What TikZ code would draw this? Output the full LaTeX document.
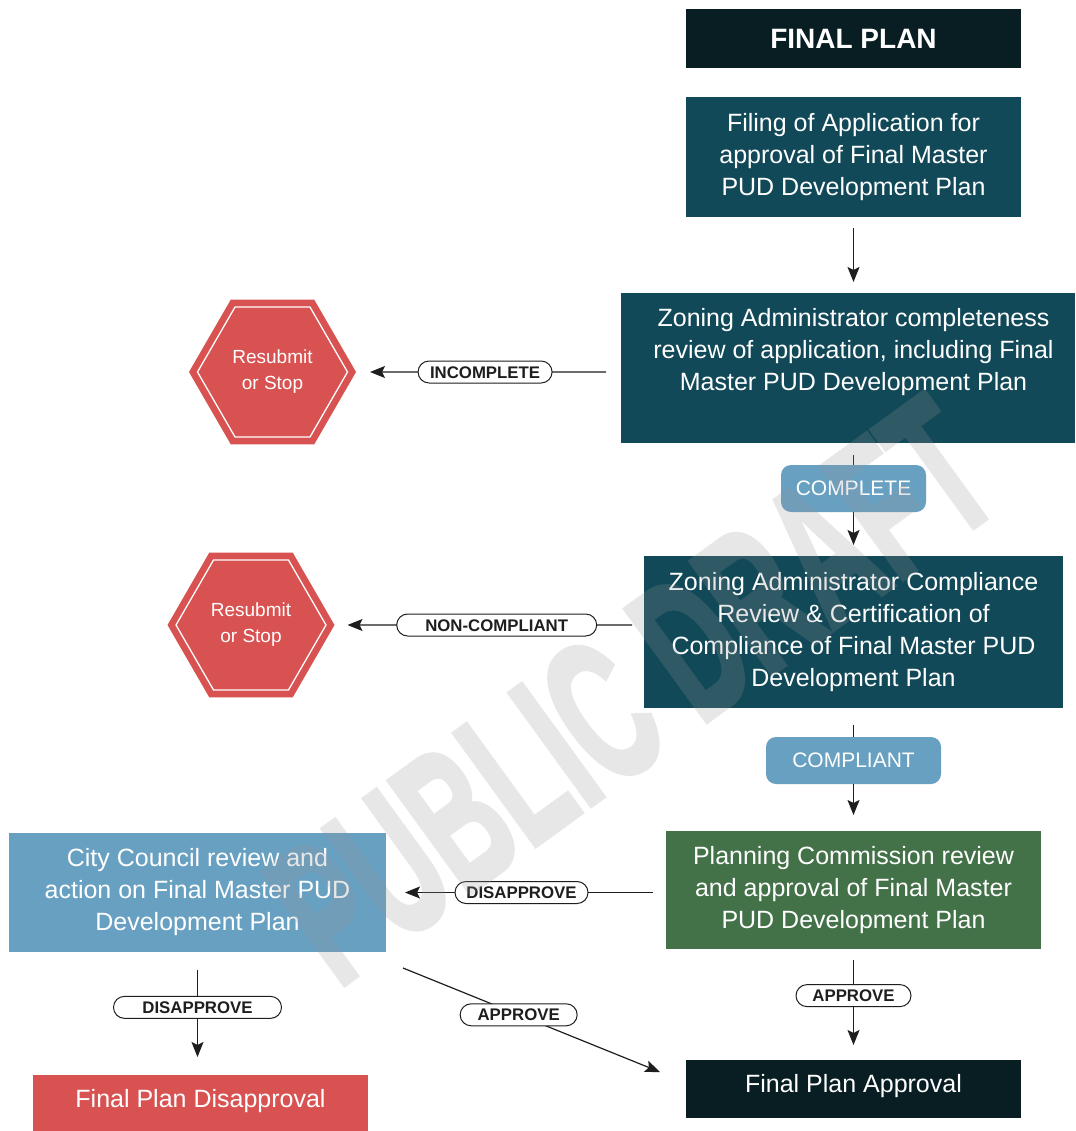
\documentclass[tikz,border=0pt]{standalone}
\usepackage{fontspec}
\setmainfont{Liberation Sans}
\newfontfamily\wmfont{Liberation Sans}[BoldFeatures={FakeBold=3}]
\usetikzlibrary{arrows.meta,shapes.geometric}
\definecolor{cdark}{RGB}{9,30,35}
\definecolor{cteal}{RGB}{18,73,88}
\definecolor{cblue}{RGB}{104,160,194}
\definecolor{cgreen}{RGB}{67,113,72}
\definecolor{cred}{RGB}{217,82,82}
\definecolor{cwm}{RGB}{150,150,150}
\definecolor{cink}{RGB}{30,30,30}
\begin{document}
\begin{tikzpicture}[x=1pt,y=-1pt,
  box/.style={rectangle, inner sep=0pt, outer sep=0pt, text=white, align=center,
    font=\fontsize{25}{32}\selectfont},
  txt/.style={inner sep=0pt, text=white, align=center, font=\fontsize{25}{32}\selectfont},
  tag/.style={rectangle, rounded corners=10pt, fill=cblue, text=white, inner sep=0pt,
    minimum height=47, font=\fontsize{21}{24}\selectfont},
  hexo/.style={regular polygon, regular polygon sides=6, minimum size=167, fill=cred,
    inner sep=0pt, outer sep=0pt, text=white, align=center, font=\fontsize{19}{26}\selectfont},
  hexi/.style={regular polygon, regular polygon sides=6, minimum size=150, draw=white,
    line width=1.3pt, inner sep=0pt},
  pill/.style={rectangle, rounded corners=11pt, draw=cink, line width=1pt, fill=white,
    text=cink, inner sep=0pt, minimum height=22, text height=12pt, text depth=0pt,
    font=\bfseries\fontsize{16.8}{18}\selectfont},
  conn/.style={draw=cink, line width=1.2pt},
  arr/.style={conn, -{Stealth[length=15pt,width=12pt,inset=3pt]}},
]
\useasboundingbox (0,0) rectangle (1075,1131);
\fill[white] (0,0) rectangle (1075,1131);

% boxes
\node[box, fill=cdark, minimum width=335, minimum height=59,
  font=\bfseries\fontsize{28}{32}\selectfont] (title) at (853.5,38.5) {FINAL PLAN};
\node[box, fill=cteal, minimum width=335, minimum height=120] (filing) at (853.5,157)
  {Filing of Application for\\approval of Final Master\\PUD Development Plan};
\node[box, fill=cteal, minimum width=454, minimum height=150] (zc) at (848,368) {};
\node[txt] (zct) at (853.5,352)
  {Zoning Administrator completeness\\review of application, including Final\\Master PUD Development Plan};
\node[tag, minimum width=145] (complete) at (853.5,488.5) {COMPLETE};
\node[box, fill=cteal, minimum width=419, minimum height=152] (comp) at (853.5,632)
  {Zoning Administrator Compliance\\Review \& Certification of\\Compliance of Final Master PUD\\Development Plan};
\node[tag, minimum width=175] (compliant) at (853.5,760.5) {COMPLIANT};
\node[box, fill=cgreen, minimum width=375, minimum height=118] (plan) at (853.5,890)
  {Planning Commission review\\and approval of Final Master\\PUD Development Plan};
\node[box, fill=cblue, minimum width=377, minimum height=119] (city) at (197.5,892.5)
  {City Council review and\\action on Final Master PUD\\Development Plan};
\node[box, fill=cdark, minimum width=335, minimum height=58] (appr) at (853.5,1089) {};
\node[txt] (apprt) at (853.5,1086) {Final Plan Approval};
\node[box, fill=cred, minimum width=335, minimum height=56] (dis) at (200.5,1103) {};
\node[txt] (dist) at (200.5,1101) {Final Plan Disapproval};

% hexagons
\node[hexo] (h1) at (272.5,372) {Resubmit\\or Stop};
\node[hexi] (h1i) at (272.5,372) {};
\node[hexo] (h2) at (251,625) {Resubmit\\or Stop};
\node[hexi] (h2i) at (251,625) {};

% connectors
\draw[arr, shorten <=11pt, shorten >=11pt] (filing.south) -- (filing.south |- zc.north);
\draw[conn, shorten <=12pt] (complete.north |- zc.south) -- (complete.north);
\draw[arr, shorten >=11pt] (complete.south) -- (comp.north);
\draw[conn, shorten <=17pt] (comp.south) -- (compliant.north);
\draw[arr, shorten >=16pt] (compliant.south) -- (plan.north);
\draw[arr, shorten <=11pt, shorten >=15pt] (plan.south) -- (appr.north)
  node[pill, pos=0.42, minimum width=115] (lap1) {APPROVE};
\draw[arr, shorten <=15pt, shorten >=14pt] (h1 -| zc.west) -- (h1.east)
  node[pill, pos=0.513, minimum width=134] (linc) {INCOMPLETE};
\draw[arr, shorten <=12pt, shorten >=13pt] (h2 -| comp.west) -- (h2.east)
  node[pill, pos=0.476, minimum width=200] (lnc) {NON-COMPLIANT};
\draw[arr, shorten <=13pt, shorten >=19pt] (city -| plan.west) -- (city.east)
  node[pill, pos=0.516, minimum width=133] (ldis1) {DISAPPROVE};
\draw[arr, shorten <=18pt, shorten >=18pt] (city.south) -- (city.south |- dis.north)
  node[pill, pos=0.45, minimum width=168] (ldis2) {DISAPPROVE};
\draw[arr] ([shift={(17,16)}]city.south east) -- ([shift={(-26,-17)}]appr.west)
  node[pill, pos=0.45, minimum width=117] (lap2) {APPROVE};

% watermark
\begin{scope}[transparency group, opacity=0.22]
\node[rotate=36, text=cwm, inner sep=0pt,
  font=\wmfont\bfseries\fontsize{200}{200}\selectfont] (wm) at (632,690)
  {\scalebox{0.56}[1]{PUBLIC DRAFT}};
\end{scope}
\end{tikzpicture}
\end{document}
